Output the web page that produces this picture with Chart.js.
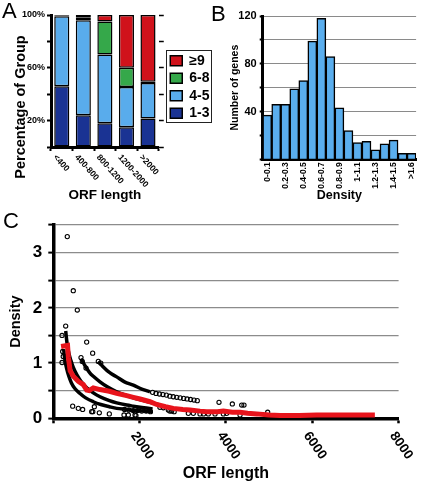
<!DOCTYPE html>
<html>
<head>
<meta charset="utf-8">
<script src="https://cdn.jsdelivr.net/npm/chart.js@4"></script>
<style>
  body { margin: 0; background: #fff; width: 425px; height: 489px; position: relative; overflow: hidden; font-family: "Liberation Sans", Arial, sans-serif; }
  canvas { position: absolute; }
  .tag { position: absolute; font-size: 22px; line-height: 1; color: #000; }
</style>
</head>
<body>
<canvas id="chartA" width="220" height="205" style="left:0;top:0"></canvas>
<canvas id="chartB" width="213" height="210" style="left:212px;top:0"></canvas>
<canvas id="chartC" width="425" height="284" style="left:0;top:205px"></canvas>
<div class="tag" style="left:2px;top:0px">A</div>
<div class="tag" style="left:211px;top:3px">B</div>
<div class="tag" style="left:3px;top:210px">C</div>
<script>
const FONT = '"Liberation Sans", Arial, sans-serif';

// panel A: share of genes per ORF length bin
const orfBins = ['<400', '400-800', '800-1200', '1200-2000', '>2000'];
const pct13 = [46, 24, 18, 15, 21.5];
const pct45 = [53, 72, 52, 30.5, 27];
const pct68 = [0.5, 2, 25, 14.5, 1];
const pct9 = [0.5, 2, 5, 40, 50.5];
const pctLabels = [20, 60, 100];

// panel B: histogram of density
const densityBins = ['0-0.1', '0.1-0.2', '0.2-0.3', '0.3-0.4', '0.4-0.5', '0.5-0.6', '0.6-0.7', '0.7-0.8',
  '0.8-0.9', '0.9-1', '1-1.1', '1.1-1.2', '1.2-1.3', '1.3-1.4', '1.4-1.5', '1.5-1.6', '>1.6'];
const geneCounts = [37, 46, 46, 59, 66, 99, 118, 86, 43, 24, 14, 15, 8, 13, 16, 5, 5];
const countLabels = [40, 80, 120];

// panel C: density vs ORF length
const trendPts = [[180, 1.30], [330, 1.32], [350, 1.10], [390, 0.86], [463, 0.76], [579, 0.67], [695, 0.61],
  [773, 0.51], [830, 0.50], [927, 0.55], [1082, 0.52], [1300, 0.49], [1469, 0.45], [1700, 0.41], [1854, 0.38],
  [2009, 0.35], [2240, 0.30], [2395, 0.25], [2600, 0.21], [2781, 0.18], [3000, 0.16], [3167, 0.15], [3400, 0.13],
  [3554, 0.12], [3800, 0.12], [3940, 0.13], [4150, 0.11], [4326, 0.11], [4500, 0.09], [4712, 0.08], [5000, 0.06],
  [5253, 0.05], [5700, 0.05], [6100, 0.06], [6500, 0.06], [7000, 0.06], [7450, 0.06]];
const bandTop = [[1043, 1.03], [1159, 0.93], [1300, 0.83], [1469, 0.75], [1650, 0.66], [1854, 0.60], [2050, 0.53], [2240, 0.48]];
const bandTwo = [[640, 1.08], [700, 1.00], [760, 0.92], [850, 0.82], [927, 0.76], [1082, 0.66], [1250, 0.57], [1469, 0.48],
  [1700, 0.41], [1854, 0.37], [2050, 0.33], [2240, 0.29], [2472, 0.24]];
const bandThree = [[287, 1.58], [320, 1.35], [360, 1.18], [410, 1.04], [463, 0.92], [550, 0.78], [650, 0.66], [780, 0.55],
  [927, 0.46], [1082, 0.39], [1300, 0.32], [1469, 0.28], [1700, 0.24], [1854, 0.22], [2100, 0.19], [2300, 0.17]];
const bandLow = [[240, 1.25], [270, 1.05], [310, 0.90], [360, 0.76], [420, 0.64], [500, 0.54], [619, 0.45], [750, 0.37],
  [927, 0.30], [1100, 0.25], [1300, 0.21], [1469, 0.18], [1700, 0.16], [1900, 0.14], [2100, 0.13], [2300, 0.12]];
const genePts = [[202, 1.50], [287, 1.67], [324, 3.29], [463, 2.31], [556, 1.96], [217, 1.21], [202, 1.01], [230, 1.12],
  [773, 1.38], [912, 1.18], [1043, 1.03], [1100, 1.00], [642, 1.10], [672, 1.03], [758, 0.91], [449, 0.22], [579, 0.18],
  [680, 0.16], [889, 0.12], [915, 0.12], [951, 0.21], [1066, 0.10], [1298, 0.08], [1638, 0.06], [1738, 0.06], [1893, 0.06],
  [1915, 0.05], [2300, 0.47], [2380, 0.45], [2460, 0.44], [2540, 0.43], [2620, 0.42], [2700, 0.40], [2780, 0.39],
  [2860, 0.38], [2940, 0.37], [3020, 0.36], [3100, 0.35], [3180, 0.34], [3260, 0.33], [3336, 0.32], [3839, 0.29],
  [4148, 0.26], [4365, 0.24], [4418, 0.24], [4967, 0.11], [1650, 0.16], [1750, 0.15], [1850, 0.14], [1950, 0.14],
  [2050, 0.13], [2150, 0.13], [2250, 0.12], [2470, 0.20], [2550, 0.19], [2665, 0.15], [2700, 0.13], [2743, 0.13],
  [2800, 0.12], [3128, 0.09], [3244, 0.09], [3399, 0.08], [3480, 0.08], [3592, 0.08], [3747, 0.08], [3940, 0.08],
  [4017, 0.09], [4326, 0.06]];
const lengthSkip = [0];

const pts = arr => arr.map(([x, y]) => ({ x, y }));
const bold = size => ({ family: FONT, size, weight: 'bold' });

// x labels that run down to the right from each tick
const slantLabels = {
  id: 'slantLabels',
  afterDraw(chart, args, o) {
    const sc = chart.scales.x, ctx = chart.ctx;
    ctx.save();
    ctx.font = o.font;
    ctx.fillStyle = '#000';
    ctx.textAlign = 'left';
    ctx.textBaseline = 'middle';
    sc.ticks.forEach((t, i) => {
      if (o.skip && o.skip.includes(t.value)) return;
      const text = o.labels ? o.labels[i] : String(t.value);
      ctx.save();
      ctx.translate(sc.getPixelForTick(i) + o.dx, sc.top + o.dy);
      ctx.rotate(o.angle * Math.PI / 180);
      ctx.fillText(text, 0, 0);
      ctx.restore();
    });
    ctx.restore();
  }
};

const legendFrame = {
  id: 'legendFrame',
  afterDraw(chart) {
    const boxes = chart.legend && chart.legend.legendHitBoxes;
    if (!boxes || !boxes.length) return;
    const ctx = chart.ctx;
    const top = Math.min(...boxes.map(b => b.top)) - 3.5;
    const bottom = Math.max(...boxes.map(b => b.top + b.height)) + 2;
    const left = Math.min(...boxes.map(b => b.left)) - 4;
    const right = Math.max(...boxes.map(b => b.left + b.width)) + 2;
    ctx.save();
    ctx.strokeStyle = '#222';
    ctx.lineWidth = 1;
    ctx.strokeRect(Math.round(left) + 0.5, Math.round(top) + 0.5, Math.round(right - left), Math.round(bottom - top));
    ctx.restore();
  }
};

const sideTitle = {
  id: 'sideTitle',
  afterDraw(chart, args, o) {
    const ctx = chart.ctx;
    ctx.save();
    ctx.font = o.font;
    ctx.fillStyle = '#000';
    ctx.textAlign = 'center';
    ctx.textBaseline = 'middle';
    ctx.translate(o.x, o.y);
    ctx.rotate(-Math.PI / 2);
    ctx.fillText(o.text, 0, 0);
    ctx.restore();
  }
};

new Chart(document.getElementById('chartA'), {
  type: 'bar',
  data: {
    labels: orfBins,
    datasets: [
      { label: '1-3', data: pct13, backgroundColor: '#1a3393' },
      { label: '4-5', data: pct45, backgroundColor: '#59acec' },
      { label: '6-8', data: pct68, backgroundColor: '#35a84a' },
      { label: '\u22659', data: pct9, backgroundColor: '#d0121b' }
    ]
  },
  options: {
    responsive: false,
    animation: false,
    layout: { padding: { top: 15, right: 0.5 } },
    datasets: { bar: { borderColor: '#000', borderWidth: 1.5, borderSkipped: false, barPercentage: 0.7, categoryPercentage: 1 } },
    scales: {
      x: {
        stacked: true,
        grid: { drawOnChartArea: false, offset: true, tickLength: 4, tickColor: '#000', tickWidth: 2 },
        border: { color: '#000', width: 3 },
        ticks: { display: false },
        title: { display: true, text: 'ORF length', color: '#000', font: bold(13.5), padding: { top: 0, bottom: 2 } },
        afterFit: s => { s.height = 58; }
      },
      y: {
        stacked: true, min: 0, max: 100,
        ticks: { stepSize: 20, color: '#000', font: bold(9), padding: 2, callback: v => pctLabels.includes(v) ? v + '%' : '' },
        grid: { drawOnChartArea: false, tickLength: 4, tickColor: '#000', tickWidth: 2 },
        border: { color: '#000', width: 3 },
        afterFit: s => { s.width = 51; }
      },
      yR: {
        position: 'right', min: 0, max: 100,
        ticks: { display: false, stepSize: 20 },
        grid: { drawOnChartArea: false, tickLength: 5, tickColor: '#000', tickWidth: 1.5 },
        border: { display: false },
        afterFit: s => { s.width = 8; }
      }
    },
    plugins: {
      legend: {
        position: 'right', fullSize: false, reverse: true, maxWidth: 60,
        title: { display: true, text: ' ', font: { size: 10 }, padding: 0 },
        labels: { boxWidth: 12, boxHeight: 10, padding: 3.5, color: '#000', font: bold(14) }
      },
      tooltip: { enabled: false },
      slantLabels: { labels: orfBins, font: 'bold 8.5px ' + FONT, angle: 48, dx: -7, dy: 9 },
      sideTitle: { text: 'Percentage of Group', font: 'bold 14.5px ' + FONT, x: 21, y: 107 }
    }
  },
  plugins: [slantLabels, legendFrame, sideTitle]
});

new Chart(document.getElementById('chartB'), {
  type: 'bar',
  data: {
    labels: densityBins,
    datasets: [{ label: 'Number of genes', data: geneCounts, backgroundColor: '#5aaeee', borderColor: '#000', borderWidth: 1.5, barPercentage: 1, categoryPercentage: 1 }]
  },
  options: {
    responsive: false,
    animation: false,
    layout: { padding: { top: 16, right: 7 } },
    scales: {
      x: {
        grid: { drawOnChartArea: false, drawTicks: false },
        border: { color: '#000', width: 3 },
        ticks: { autoSkip: false, minRotation: 90, maxRotation: 90, padding: 3, color: '#000', font: bold(8.5),
          callback: (v, i) => i % 2 === 0 ? densityBins[i] : '' },
        title: { display: true, text: 'Density', color: '#000', font: bold(12.5), padding: { top: 0, bottom: 7 } },
        afterFit: s => { s.height = 50.7; }
      },
      y: {
        min: 0, max: 120,
        ticks: { stepSize: 20, color: '#000', font: bold(11), padding: 3, callback: v => countLabels.includes(v) ? v : '' },
        grid: { color: '#8a8a8a', lineWidth: 1, tickLength: 3, tickColor: '#000', tickWidth: 2 },
        border: { color: '#000', width: 3 },
        title: { display: true, text: 'Number of genes', color: '#000', font: bold(10.5), padding: { top: 17, bottom: 0 } },
        afterFit: s => { s.width = 50.7; }
      }
    },
    plugins: { legend: { display: false }, tooltip: { enabled: false } }
  }
});

new Chart(document.getElementById('chartC'), {
  type: 'scatter',
  data: {
    datasets: [
      { label: 'trend', data: pts(trendPts), showLine: true, borderColor: '#e8141c', borderWidth: 5, pointRadius: 0 },
      { label: 'band1', data: pts(bandTop), showLine: true, borderColor: '#000', borderWidth: 3.5, pointRadius: 0, cubicInterpolationMode: 'monotone' },
      { label: 'band2', data: pts(bandTwo), showLine: true, borderColor: '#000', borderWidth: 3.5, pointRadius: 0, cubicInterpolationMode: 'monotone' },
      { label: 'band3', data: pts(bandThree), showLine: true, borderColor: '#000', borderWidth: 3.5, pointRadius: 0, cubicInterpolationMode: 'monotone' },
      { label: 'band4', data: pts(bandLow), showLine: true, borderColor: '#000', borderWidth: 3.5, pointRadius: 0, cubicInterpolationMode: 'monotone' },
      { label: 'genes', data: pts(genePts), pointRadius: 2.1, pointBorderWidth: 1.1, pointBorderColor: '#000', pointBackgroundColor: 'rgba(255,255,255,0)' }
    ]
  },
  options: {
    responsive: false,
    animation: false,
    layout: { padding: { top: 20, right: 26.4 } },
    scales: {
      x: {
        type: 'linear', min: 0, max: 8000,
        ticks: { stepSize: 2000, display: false },
        grid: { drawOnChartArea: false, tickLength: 5, tickColor: '#000', tickWidth: 2.5 },
        border: { color: '#000', width: 3.5 },
        title: { display: true, text: 'ORF length', color: '#000', font: bold(16), padding: { top: 0, bottom: 6 } },
        afterFit: s => { s.height = 70.7; }
      },
      y: {
        min: 0, max: 3.5,
        ticks: { stepSize: 0.5, color: '#000', font: bold(17), padding: 6, callback: v => Number.isInteger(v) ? v : '' },
        grid: { color: '#8c8c8c', lineWidth: 1.2, tickLength: 5, tickColor: '#000', tickWidth: 2 },
        border: { color: '#000', width: 3.5 },
        title: { display: true, text: 'Density', color: '#000', font: bold(14.5), padding: { top: 7, bottom: 0 } },
        afterFit: s => { s.width = 53.3; }
      }
    },
    plugins: {
      legend: { display: false },
      tooltip: { enabled: false },
      slantLabels: { skip: lengthSkip, font: 'bold 13.5px ' + FONT, angle: 55, dx: -6, dy: 15 }
    }
  },
  plugins: [slantLabels]
});
</script>
</body>
</html>
